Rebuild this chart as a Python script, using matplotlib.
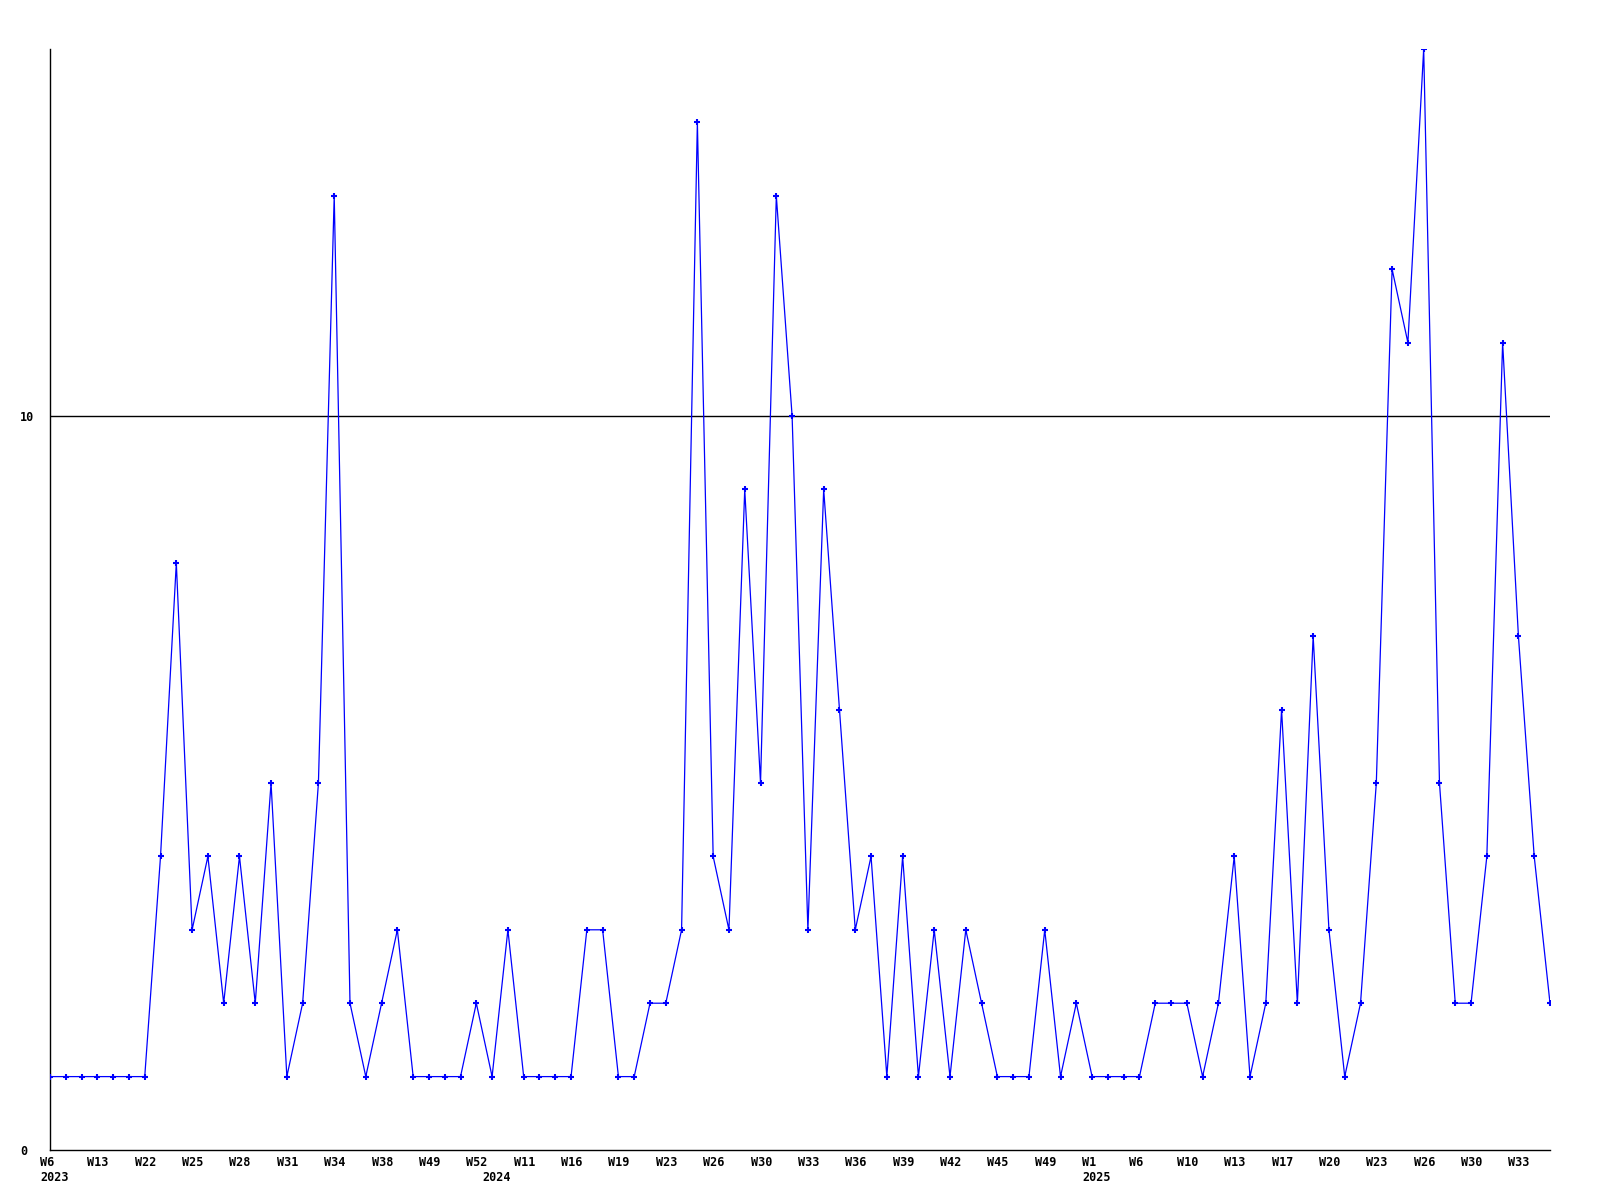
import numpy as np
import matplotlib
matplotlib.use("Agg")
import matplotlib.pyplot as plt
import matplotlib.transforms as mtransforms

# weekly counts, one per point
values = [1, 1, 1, 1, 1, 1, 1, 4, 8, 3, 4, 2, 4, 2, 5, 1, 2, 5, 13, 2,
          1, 2, 3, 1, 1, 1, 1, 2, 1, 3, 1, 1, 1, 1, 3, 3, 1, 1, 2, 2,
          3, 14, 4, 3, 9, 5, 13, 10, 3, 9, 6, 3, 4, 1, 4, 1, 3, 1, 3, 2,
          1, 1, 1, 3, 1, 2, 1, 1, 1, 1, 2, 2, 2, 1, 2, 4, 1, 2, 6, 2,
          7, 3, 1, 2, 5, 12, 11, 15, 5, 2, 2, 4, 11, 7, 4, 2]

week_labels = ["W6", "W13", "W22", "W25", "W28", "W31", "W34", "W38", "W49", "W52",
               "W11", "W16", "W19", "W23", "W26", "W30", "W33", "W36", "W39", "W42",
               "W45", "W49", "W1", "W6", "W10", "W13", "W17", "W20", "W23", "W26",
               "W30", "W33"]
week_label_step = 3
year_labels = ["2023", "2024", "2025"]
year_positions = [0, 28, 66]

x = np.arange(len(values))

fig = plt.figure(figsize=(16, 12), dpi=100)
ax = fig.add_axes([50/1600, 1 - 1150/1200, 1500/1600, 1101/1200])

ax.axhline(10, color="black", linewidth=1.0, zorder=1)
ax.plot(x, values, color="#0000ff", linewidth=0.9, marker="+", markersize=4,
        markeredgewidth=1.5, zorder=3)

ax.set_xlim(0, len(values) - 1)
ax.set_ylim(0, 15)

for s in ["top", "right"]:
    ax.spines[s].set_visible(False)
for s in ["left", "bottom"]:
    ax.spines[s].set_linewidth(1.0)

font = dict(family="DejaVu Sans Mono", weight="bold", fontsize=8.5)

ax.set_xticks([])
ax.set_yticks([0, 10])
ax.set_yticklabels(["0", "10"], ha="left", **font)
ax.tick_params(axis="y", length=0, pad=21.6)

trans = ax.get_xaxis_transform() + mtransforms.ScaledTranslation(-10/100, -6/100, fig.dpi_scale_trans)
for k, lab in enumerate(week_labels):
    ax.text(k * week_label_step, 0, lab, transform=trans, ha="left", va="top", **font)

trans2 = ax.get_xaxis_transform() + mtransforms.ScaledTranslation(-10/100, -21/100, fig.dpi_scale_trans)
for pos, lab in zip(year_positions, year_labels):
    ax.text(pos, 0, lab, transform=trans2, ha="left", va="top", **font)

plt.savefig("out.png", dpi=100)
